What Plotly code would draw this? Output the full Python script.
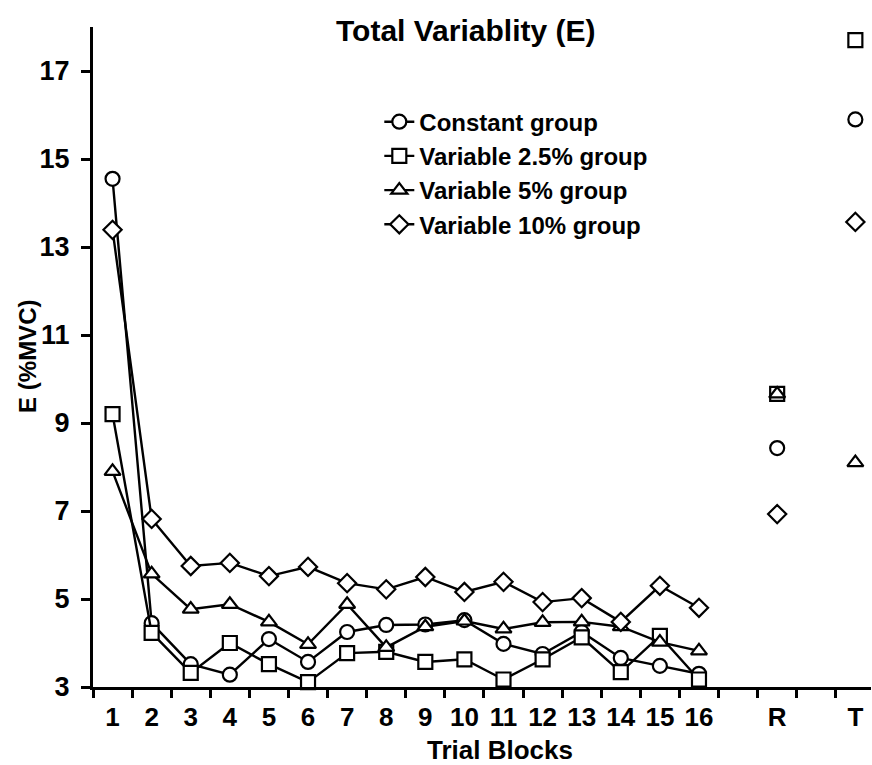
import plotly.graph_objects as go

blocks = list(range(1, 17))
tick_labels = [str(b) for b in blocks] + ["R", "T"]
tick_positions = blocks + [18, 20]
test_positions = [18, 20]   # R (retention), T (transfer)
y_ticks = [3, 5, 7, 9, 11, 13, 15, 17]

groups = ["Constant group", "Variable 2.5% group", "Variable 5% group", "Variable 10% group"]
symbols = ["circle", "square", "triangle-up", "diamond"]

constant = [14.55, 4.45, 3.52, 3.28, 4.09, 3.57, 4.25, 4.41, 4.42, 4.52, 3.98, 3.75, 4.25, 3.66, 3.48, 3.3]
var25 = [9.2, 4.23, 3.32, 4.0, 3.52, 3.11, 3.77, 3.8, 3.57, 3.63, 3.17, 3.63, 4.13, 3.34, 4.16, 3.17]
var5 = [7.9, 5.57, 4.77, 4.88, 4.48, 3.97, 4.88, 3.9, 4.37, 4.5, 4.32, 4.47, 4.48, 4.37, 4.02, 3.82]
var10 = [13.39, 6.82, 5.75, 5.82, 5.52, 5.73, 5.36, 5.22, 5.5, 5.16, 5.39, 4.93, 5.02, 4.48, 5.3, 4.8]

constant_RT = [8.43, 15.9]
var25_RT = [9.66, 17.7]
var5_RT = [9.66, 8.1]
var10_RT = [6.93, 13.57]

series = [constant, var25, var5, var10]
series_RT = [constant_RT, var25_RT, var5_RT, var10_RT]

FONT = "Liberation Sans, Arial, sans-serif"

fig = go.Figure()
for name, sym, ys, yrt in zip(groups, symbols, series, series_RT):
    mk = dict(symbol=sym, size=14, color="white", line=dict(width=2.2, color="black"))
    fig.add_trace(go.Scatter(
        x=blocks, y=ys, mode="lines+markers", name=name, legendgroup=name,
        line=dict(color="black", width=2.4),
        marker=mk, cliponaxis=False,
    ))
    fig.add_trace(go.Scatter(
        x=test_positions, y=yrt, mode="markers", name=name, legendgroup=name,
        showlegend=False, marker=mk, cliponaxis=False,
    ))

fig.update_layout(
    width=872, height=765,
    margin=dict(l=93, r=1, t=27, b=78),
    paper_bgcolor="white", plot_bgcolor="white",
    font=dict(family=FONT, color="black", size=22),
    showlegend=True,
    legend=dict(
        x=0.368, y=0.89, xanchor="left", yanchor="top",
        bgcolor="rgba(0,0,0,0)", borderwidth=0,
        font=dict(family=FONT, size=24, color="black", weight="bold"),
        tracegroupgap=0, traceorder="grouped",
    ),
    annotations=[
        dict(text="<b>Total Variablity (E)</b>", x=0.479, y=1, xref="paper", yref="paper",
             xanchor="center", yanchor="middle", yshift=-3, showarrow=False,
             font=dict(family=FONT, size=30, color="black")),
        dict(text="<b>Trial Blocks</b>", x=0.523, y=-0.096, xref="paper", yref="paper",
             xanchor="center", yanchor="middle", showarrow=False,
             font=dict(family=FONT, size=26, color="black")),
        dict(text="<b>E (%MVC)</b>", x=-0.085, y=0.5015, xref="paper", yref="paper",
             xanchor="center", yanchor="middle", textangle=-90, showarrow=False,
             font=dict(family=FONT, size=24, color="black")),
    ],
)

fig.update_layout(
    xaxis=dict(
        range=[0.5, 20.4],
        tickmode="array", tickvals=tick_positions,
        ticktext=["<b>%s</b>" % t for t in tick_labels],
        ticks="", showgrid=False, zeroline=False,
        showline=True, linecolor="black", linewidth=3,
        minor=dict(tickmode="array", tickvals=[i + 0.5 for i in range(0, 21)],
                   ticks="outside", ticklen=8, tickwidth=2.5, tickcolor="black", showgrid=False),
        tickfont=dict(family=FONT, size=26, color="black"),
        ticklabelstandoff=5,
    ),
    yaxis=dict(
        range=[3, 18],
        tickmode="array", tickvals=y_ticks,
        ticktext=["<b>%d</b>" % v for v in y_ticks],
        ticks="outside", ticklen=9, tickwidth=2.5, tickcolor="black",
        showgrid=False, zeroline=False,
        showline=True, linecolor="black", linewidth=3,
        tickfont=dict(family=FONT, size=27, color="black"),
        ticklabelstandoff=6,
    ),
)

fig.write_html("out.html")
